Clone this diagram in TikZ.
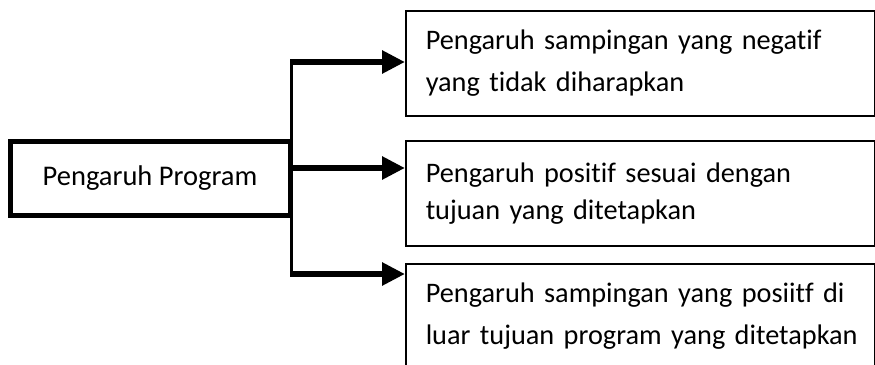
\documentclass[tikz,border=0pt]{standalone}
\usepackage{fontspec}
\setmainfont{Carlito}[Ligatures=NoCommon]
\usetikzlibrary{arrows.meta}
\begin{document}
\begin{tikzpicture}[x=1pt,y=-1pt,
                box/.style={
                    draw,
                    line width=1.5pt,
                    rectangle,
                    anchor=north west,
                    minimum width=469pt,
                    minimum height=105pt,
                    text width=439pt,
                    inner xsep=15pt,
                    align=left,
                    font=\fontsize{28.3}{42}\selectfont
                },
                mainbox/.style={
                    draw,
                    line width=5pt,
                    rectangle,
                    minimum width=280pt,
                    minimum height=74pt,
                    font=\fontsize{28.5}{34}\selectfont
                },
                trunk/.style={
                    line width=3pt
                },
                arrow/.style={
                    -{Triangle[length=23pt,width=22pt]},
                    line width=6pt
                }
            ]
                \useasboundingbox (0,0) rectangle (875,364);

                \node[mainbox] (prog) at (150,178) {Pengaruh Program};
                \node[box] (neg)  at (405,10)  {\hspace*{5pt}Pengaruh sampingan yang negatif\\\hspace*{5pt}yang tidak diharapkan};
                \node[box, font=\fontsize{28.3}{37}\selectfont] (pos) at (405,140) {\hspace*{5pt}Pengaruh positif sesuai dengan\\\hspace*{5pt}tujuan yang ditetapkan};
                \node[box] (side) at (405,263) {\hspace*{5pt}Pengaruh sampingan yang posiitf di\\\hspace*{5pt}luar tujuan program yang ditetapkan};

                \coordinate (j1) at (291,62);
                \coordinate (j2) at (291,168);
                \coordinate (j3) at (291,274);

                \draw[trunk] (291,59) -- (291,277);
                \draw[arrow] (j1) -- (j1 -| neg.west);
                \draw[arrow] (j2) -- (j2 -| pos.west);
                \draw[arrow] (j3) -- (j3 -| side.west);
        \end{tikzpicture}
\end{document}
